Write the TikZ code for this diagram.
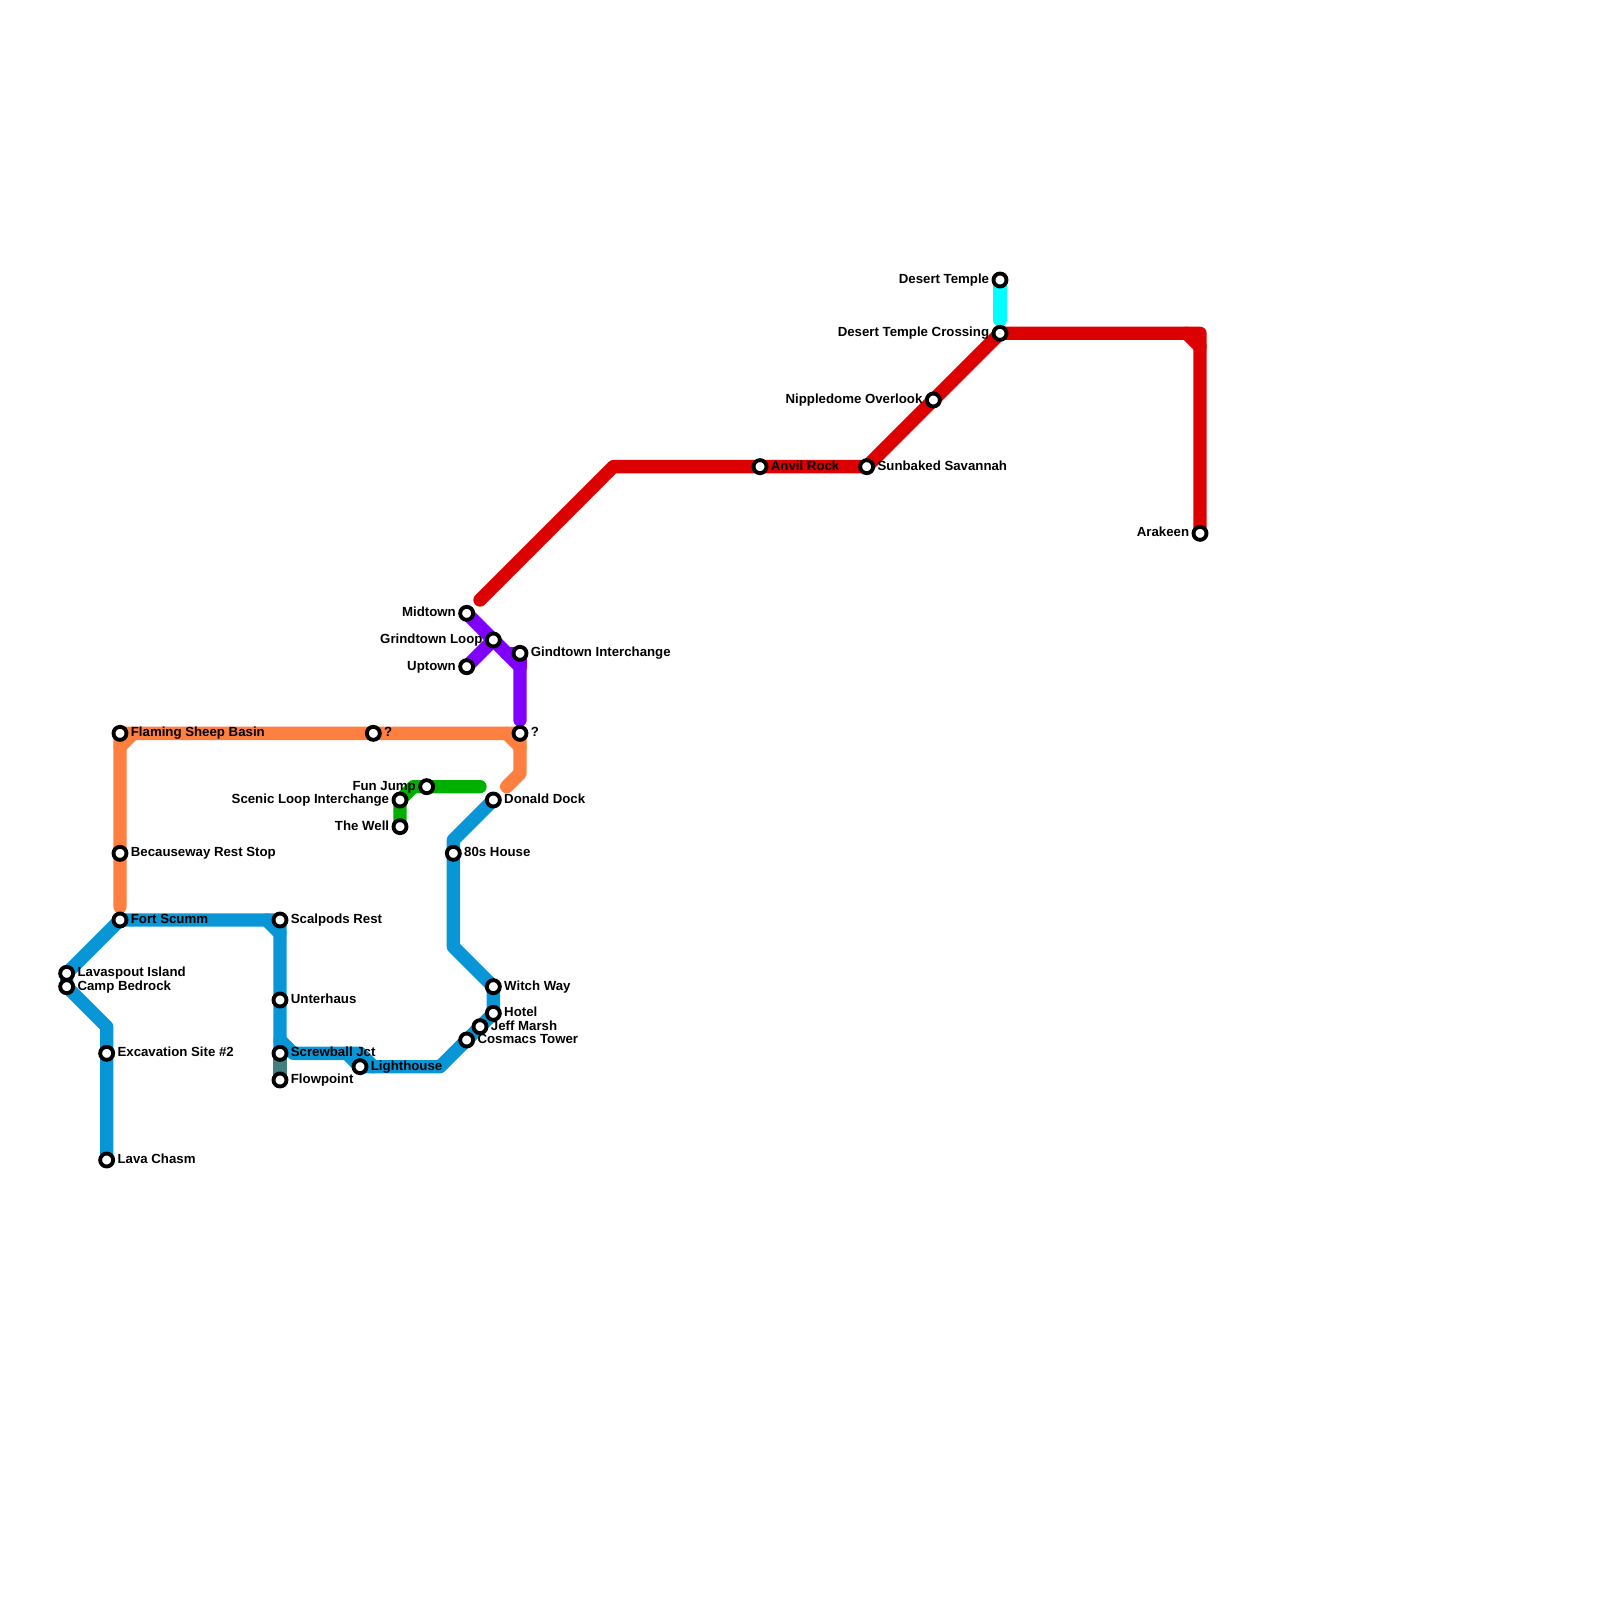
\documentclass[tikz,border=0pt]{standalone}
\usepackage{fontspec}
\setmainfont{Liberation Sans}
\usepackage{xcolor}
\usepackage{tikz}
\usetikzlibrary{positioning, backgrounds}

\definecolor{metroblue}{HTML}{0896D7}
\definecolor{metroorange}{HTML}{FF7F40}
\definecolor{metrored}{HTML}{DC0000}
\definecolor{metropurple}{HTML}{8000FF}
\definecolor{metrogreen}{HTML}{00B000}
\definecolor{metrocyan}{HTML}{00FFFF}
\definecolor{metroteal}{HTML}{427F7F}

\begin{document}
\begin{tikzpicture}[
  x=0.2cm, y=-0.2cm,
  node distance=0.03cm,
  every node/.style={font=\bfseries\fontsize{5.65}{6}\selectfont},
  stn/.style={circle, draw=black, fill=white, line width=0.058cm, minimum size=0.195cm, inner sep=0pt},
  lbl/.style={inner sep=0pt, text height=3pt, text depth=0pt},
  track/.style={line width=0.2cm, line cap=round, line join=round}
]
\useasboundingbox (0,0) rectangle (120,120);

% Stations
\node[stn] (lavaspout) at (5,73) {};
\node[stn] (bedrock) at (5,74) {};
\node[stn] (excavation) at (8,79) {};
\node[stn] (lavachasm) at (8,87) {};
\node[stn] (fortscumm) at (9,69) {};
\node[stn] (because) at (9,64) {};
\node[stn] (flaming) at (9,55) {};
\node[stn] (scalpods) at (21,69) {};
\node[stn] (unterhaus) at (21,75) {};
\node[stn] (screwball) at (21,79) {};
\node[stn] (flowpoint) at (21,81) {};
\node[stn] (lighthouse) at (27,80) {};
\node[stn] (unknownA) at (28,55) {};
\node[stn] (scenic) at (30,60) {};
\node[stn] (well) at (30,62) {};
\node[stn] (funjump) at (32,59) {};
\node[stn] (house) at (34,64) {};
\node[stn] (midtown) at (35,46) {};
\node[stn] (uptown) at (35,50) {};
\node[stn] (cosmacs) at (35,78) {};
\node[stn] (jeff) at (36,77) {};
\node[stn] (loop) at (37,48) {};
\node[stn] (donald) at (37,60) {};
\node[stn] (witch) at (37,74) {};
\node[stn] (hotel) at (37,76) {};
\node[stn] (gindtown) at (39,49) {};
\node[stn] (unknownB) at (39,55) {};
\node[stn] (anvil) at (57,35) {};
\node[stn] (sunbaked) at (65,35) {};
\node[stn] (nipple) at (70,30) {};
\node[stn] (crossing) at (75,25) {};
\node[stn] (temple) at (75,21) {};
\node[stn] (arakeen) at (90,40) {};

% Free ends and bends
\coordinate (redstart) at (36,45);
\coordinate (redbendA) at (46,35);
\coordinate (redbendB) at (90,25);
\coordinate (redcutA) at (89,25);
\coordinate (redcutB) at (90,26);
\coordinate (cyanend) at (75,24);
\coordinate (purplebend) at (39,50);
\coordinate (purplestub) at (38,49);
\coordinate (purpleend) at (39,54);
\coordinate (orangestart) at (9,68);
\coordinate (orangecutA) at (9,56);
\coordinate (orangecutB) at (10,55);
\coordinate (orangecutC) at (38,55);
\coordinate (orangecutD) at (39,56);
\coordinate (orangebend) at (39,58);
\coordinate (orangeend) at (38,59);
\coordinate (greenbend) at (31,59);
\coordinate (greenend) at (36,59);
\coordinate (bluebendA) at (34,63);
\coordinate (bluebendB) at (34,71);
\coordinate (bluebendD) at (33,80);
\coordinate (bluebendE) at (28,80);
\coordinate (bluebendF) at (27,79);
\coordinate (bluebendG) at (26,79);
\coordinate (bluebendH) at (22,79);
\coordinate (bluebendJ) at (21,78);
\coordinate (bluecutA) at (20,69);
\coordinate (bluecutB) at (21,70);
\coordinate (bluebendK) at (8,77);

% Lines
\begin{scope}[on background layer]
\draw[track, metrocyan] (temple.center) -- (cyanend);
\draw[track, metroteal] (screwball.center) -- (flowpoint.center);
\draw[track, metrored] (redstart) -- (redbendA) -- (sunbaked.center) -- (crossing.center) -- (redbendB) -- (arakeen.center);
\draw[track, metrored] (redcutA) -- (redcutB);
\draw[track, metropurple] (midtown.center) -- (purplebend) -- (purpleend);
\draw[track, metropurple] (purplestub) -- (gindtown.center) -- (purplebend);
\draw[track, metropurple] (uptown.center) -- (loop.center);
\draw[track, metroorange] (orangestart) -- (flaming.center) -- (unknownB.center) -- (orangebend) -- (orangeend);
\draw[track, metroorange] (orangecutA) -- (orangecutB);
\draw[track, metroorange] (orangecutC) -- (orangecutD);
\draw[track, metrogreen] (well.center) -- (scenic.center) -- (greenbend) -- (greenend);
\draw[track, metroblue] (donald.center) -- (bluebendA) -- (bluebendB) -- (witch.center) -- (hotel.center) -- (bluebendD) -- (bluebendE) -- (bluebendF) -- (bluebendH) -- (bluebendJ);
\draw[track, metroblue] (bluebendG) -- (lighthouse.center) -- (bluebendE);
\draw[track, metroblue] (screwball.center) -- (scalpods.center) -- (fortscumm.center) -- (lavaspout.center) -- (bedrock.center) -- (bluebendK) -- (lavachasm.center);
\draw[track, metroblue] (bluecutA) -- (bluecutB);
\end{scope}

% Labels to the right
\node[lbl, right=of lavaspout] (lavaspoutL) {Lavaspout Island};
\node[lbl, right=of bedrock] (bedrockL) {Camp Bedrock};
\node[lbl, right=of excavation] (excavationL) {Excavation Site \#2};
\node[lbl, right=of lavachasm] (lavachasmL) {Lava Chasm};
\node[lbl, right=of fortscumm] (fortscummL) {Fort Scumm};
\node[lbl, right=of because] (becauseL) {Becauseway Rest Stop};
\node[lbl, right=of flaming] (flamingL) {Flaming Sheep Basin};
\node[lbl, right=of scalpods] (scalpodsL) {Scalpods Rest};
\node[lbl, right=of unterhaus] (unterhausL) {Unterhaus};
\node[lbl, right=of screwball] (screwballL) {Screwball Jct};
\node[lbl, right=of flowpoint] (flowpointL) {Flowpoint};
\node[lbl, right=of lighthouse] (lighthouseL) {Lighthouse};
\node[lbl, right=of unknownA] (unknownAL) {?};
\node[lbl, right=of house] (houseL) {80s House};
\node[lbl, right=of cosmacs] (cosmacsL) {Cosmacs Tower};
\node[lbl, right=of jeff] (jeffL) {Jeff Marsh};
\node[lbl, right=of donald] (donaldL) {Donald Dock};
\node[lbl, right=of witch] (witchL) {Witch Way};
\node[lbl, right=of hotel] (hotelL) {Hotel};
\node[lbl, right=of gindtown] (gindtownL) {Gindtown Interchange};
\node[lbl, right=of unknownB] (unknownBL) {?};
\node[lbl, right=of anvil] (anvilL) {Anvil Rock};
\node[lbl, right=of sunbaked] (sunbakedL) {Sunbaked Savannah};

% Labels to the left
\node[lbl, left=of scenic] (scenicL) {Scenic Loop Interchange};
\node[lbl, left=of well] (wellL) {The Well};
\node[lbl, left=of funjump] (funjumpL) {Fun Jump};
\node[lbl, left=of midtown] (midtownL) {Midtown};
\node[lbl, left=of uptown] (uptownL) {Uptown};
\node[lbl, left=of loop] (loopL) {Grindtown Loop};
\node[lbl, left=of nipple] (nippleL) {Nippledome Overlook};
\node[lbl, left=of crossing] (crossingL) {Desert Temple Crossing};
\node[lbl, left=of temple] (templeL) {Desert Temple};
\node[lbl, left=of arakeen] (arakeenL) {Arakeen};
\end{tikzpicture}
\end{document}
